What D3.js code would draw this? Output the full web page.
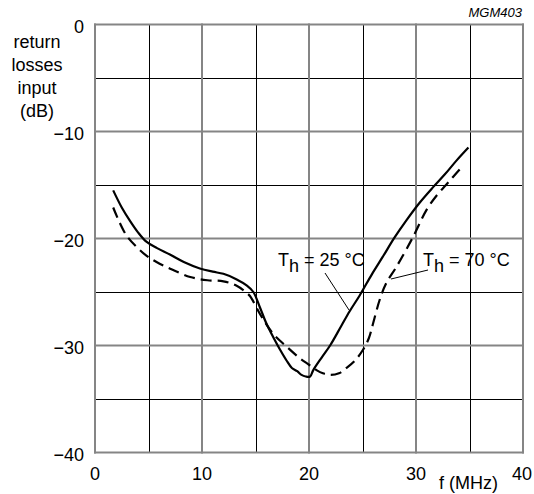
<!DOCTYPE html>
<html><head><meta charset="utf-8">
<script src="https://cdn.jsdelivr.net/npm/d3@7"></script>
<style>body{margin:0;background:#fff}svg{display:block}text{font-family:"Liberation Sans",Arial,sans-serif}</style>
</head><body>
<div id="chart"></div>
<script>
const xTicks = [0, 10, 20, 30, 40];
const yTicks = [0, -10, -20, -30, -40];
const yTickLabels = ["0", "\u221210", "\u221220", "\u221230", "\u221240"];
const yTitle = ["return", "losses", "input", "(dB)"];
const xTitle = "f (MHz)";
const code = "MGM403";
const series25 = [[1.7,-15.5],[2.5,-17.1],[3.3,-18.4],[4.0,-19.4],[4.8,-20.3],[5.8,-20.9],[7.0,-21.5],[8.3,-22.2],[9.8,-22.8],[11.0,-23.1],[12.0,-23.3],[13.2,-23.8],[14.2,-24.4],[14.8,-25.0],[15.4,-26.4],[16.0,-27.9],[16.7,-29.3],[17.3,-30.4],[17.9,-31.4],[18.4,-32.1],[18.9,-32.4],[19.3,-32.75],[19.7,-32.9],[20.1,-32.9],[20.4,-32.3],[21.2,-31.1],[22.0,-29.95],[23.0,-28.2],[23.8,-26.8],[24.75,-25.3],[25.9,-23.3],[26.9,-21.7],[28.0,-19.9],[29.1,-18.3],[30.3,-16.7],[31.6,-15.2],[32.7,-14.0],[33.8,-12.7],[34.9,-11.5]];
const series70 = [[1.7,-17.1],[2.3,-18.5],[3.0,-19.8],[3.9,-20.8],[4.8,-21.6],[5.75,-22.2],[7.2,-22.9],[8.9,-23.6],[10.5,-23.9],[12.0,-24.0],[13.2,-24.4],[14.2,-25.1],[14.5,-25.4],[15.5,-27.2],[16.65,-28.9],[17.9,-30.1],[19.15,-31.2],[20.0,-31.8],[20.7,-32.3],[21.3,-32.6],[22.0,-32.75],[22.8,-32.6],[23.5,-32.1],[24.3,-31.4],[25.05,-30.4],[25.6,-29.3],[26.0,-27.9],[26.6,-25.75],[27.2,-24.2],[28.2,-22.6],[29.7,-19.9],[31.0,-17.3],[32.0,-15.9],[32.8,-15.0],[33.5,-14.2],[34.2,-13.4]];
const labels = [
  {text:"25 \u00B0C", x:278, y:266, lead:[[325,273],[349,310]]},
  {text:"70 \u00B0C", x:423, y:266, lead:[[428,270],[391,279]]}
];

const W = 534, H = 494;
const svg = d3.select("#chart").append("svg").attr("width", W).attr("height", H);
const x = d3.scaleLinear().domain([0, 40]).range([95, 523]);
const y = d3.scaleLinear().domain([0, -40]).range([24.5, 452.5]);

const minorX = d3.range(5, 40, 10), minorY = d3.range(-5, -40, -10);
const g = svg.append("g");
g.selectAll(".vx").data(minorX).enter().append("line")
  .attr("x1", d => Math.round(x(d)) + 0.5).attr("x2", d => Math.round(x(d)) + 0.5)
  .attr("y1", y(0)).attr("y2", y(-40)).attr("stroke", "#000").attr("stroke-width", 1);
g.selectAll(".hy").data(minorY).enter().append("line")
  .attr("y1", d => Math.round(y(d)) + 0.5).attr("y2", d => Math.round(y(d)) + 0.5)
  .attr("x1", x(0)).attr("x2", x(40)).attr("stroke", "#000").attr("stroke-width", 1);
g.selectAll(".vX").data(xTicks).enter().append("line")
  .attr("x1", d => x(d)).attr("x2", d => x(d))
  .attr("y1", y(0) - 1).attr("y2", y(-40) + 1).attr("stroke", "#858585").attr("stroke-width", 2);
g.selectAll(".hY").data(yTicks).enter().append("line")
  .attr("y1", d => y(d)).attr("y2", d => y(d))
  .attr("x1", x(0) - 1).attr("x2", x(40) + 1).attr("stroke", "#858585").attr("stroke-width", 2);

const line = d3.line().x(d => x(d[0])).y(d => y(d[1])).curve(d3.curveCatmullRom.alpha(0.5));
svg.append("path").datum(series25).attr("d", line).attr("fill", "none")
  .attr("stroke", "#000").attr("stroke-width", 2.2).attr("stroke-linejoin", "round");
svg.append("path").datum(series70).attr("d", line).attr("fill", "none")
  .attr("stroke", "#000").attr("stroke-width", 2.2).attr("stroke-dasharray", "11,6");

const fs = 18;
svg.selectAll(".xt").data(xTicks).enter().append("text")
  .attr("x", d => x(d) + (d === 40 ? -1 : 0)).attr("y", 480).attr("text-anchor", "middle")
  .attr("font-size", fs).text(d => d);
svg.selectAll(".yt").data(yTicks).enter().append("text")
  .attr("x", 84).attr("y", d => y(d) + 8.5).attr("text-anchor", "end")
  .attr("font-size", fs).text((d, i) => yTickLabels[i]);
svg.append("text").attr("x", 468.5).attr("y", 489).attr("text-anchor", "middle").attr("font-size", fs).text(xTitle);
svg.selectAll(".yl").data(yTitle).enter().append("text")
  .attr("x", 37).attr("y", (d, i) => 48 + i * 23).attr("text-anchor", "middle")
  .attr("font-size", fs).text(d => d);
svg.append("text").attr("x", 522).attr("y", 17).attr("text-anchor", "end")
  .attr("font-size", 13).attr("font-style", "italic").text(code);

labels.forEach(l => {
  const t = svg.append("text").attr("x", l.x).attr("y", l.y).attr("font-size", fs).attr("fill", "#000");
  t.append("tspan").text("T");
  t.append("tspan").attr("dy", 6).text("h");
  t.append("tspan").attr("dy", -6).text(" = " + l.text);
  svg.append("line").attr("x1", l.lead[0][0]).attr("y1", l.lead[0][1])
    .attr("x2", l.lead[1][0]).attr("y2", l.lead[1][1]).attr("stroke", "#000").attr("stroke-width", 1);
});
</script>
</body></html>
